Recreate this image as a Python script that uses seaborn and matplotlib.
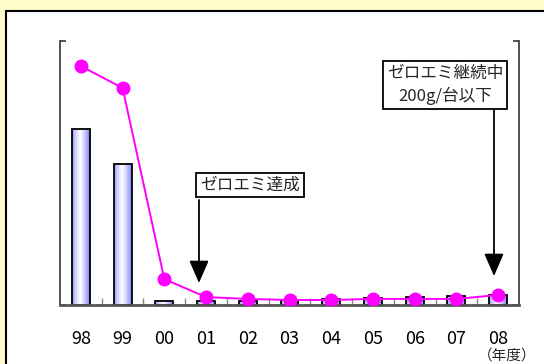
import numpy as np
import matplotlib
matplotlib.use("Agg")
import matplotlib.pyplot as plt
from matplotlib.patches import Rectangle
from matplotlib.ticker import FixedLocator
import seaborn as sns

# Fiscal years and the two series (bars and line share one relative scale)
years = ["98", "99", "00", "01", "02", "03", "04", "05", "06", "07", "08"]
bar_vals = [66.7, 53.4, 1.5, 1.5, 1.5, 1.9, 2.3, 2.7, 3.0, 3.4, 3.8]
line_vals = [90.5, 82.2, 9.8, 3.0, 2.3, 1.9, 1.9, 2.3, 2.3, 2.3, 3.8]

label_achieved = "ゼロエミ達成"
label_continuing = "ゼロエミ継続中\n200g/台以下"
unit_label = "（年度）"

sns.set_theme(style="white")
plt.rcParams["font.family"] = ["Noto Sans CJK JP", "DejaVu Sans"]

W, H = 544, 364
fig = plt.figure(figsize=(W / 100, H / 100), dpi=100)
fig.patch.set_facecolor("#FFFCCC")

# White panel with a black frame on the left and top
panel = Rectangle((5.5 / W, -0.1), 1.2, (H - 10.5) / H + 0.1,
                  transform=fig.transFigure, facecolor="white",
                  edgecolor="black", linewidth=1.5, zorder=-1)
fig.patches.append(panel)

ax = fig.add_axes([60 / W, 1 - 305 / H, 459 / W, 264 / H])
ax.set_facecolor("none")

sns.barplot(x=years, y=bar_vals, order=years, ax=ax, width=0.43,
            color="#B8B8FF", edgecolor="black", linewidth=1.3, zorder=2)

# Horizontal blue-white-blue shading inside each bar
t = np.linspace(0, 1, 64)
grad = np.clip(np.abs(t - 0.45) / 0.55, 0, 1) ** 1.2
c_edge = np.array([0.5, 0.5, 1.0])
c_mid = np.array([1.0, 1.0, 1.0])
img = (c_mid[None, :] * (1 - grad[:, None]) + c_edge[None, :] * grad[:, None])[None, :, :]
for bar in list(ax.patches):
    x0, y0 = bar.get_x(), bar.get_y()
    w, h = bar.get_width(), bar.get_height()
    im = ax.imshow(img, extent=[x0, x0 + w, y0, y0 + h], aspect="auto",
                   zorder=1.5, interpolation="bilinear")
    im.set_clip_path(bar)
    bar.set_facecolor("none")

sns.pointplot(x=years, y=line_vals, order=years, ax=ax, color="#FF00FF",
              markers="o", markersize=9, linewidth=1.4, zorder=4)
for coll in ax.collections:
    coll.set_zorder(5)

ax.set_xlim(-0.5, len(years) - 0.5)
ax.set_ylim(0, 100)
ax.set_xlabel("")
ax.set_ylabel("")

# Axes frame: left/right lines with end ticks, gray base line
for side in ("left", "right"):
    ax.spines[side].set_visible(True)
    ax.spines[side].set_color("#333333")
    ax.spines[side].set_linewidth(1.2)
ax.spines["top"].set_visible(False)
ax.spines["bottom"].set_visible(True)
ax.spines["bottom"].set_color("#555555")
ax.spines["bottom"].set_linewidth(2)

ax.set_yticks([0, 100])
ax.tick_params(axis="y", which="major", left=True, right=True, direction="in",
               length=4, width=1.2, color="#333333",
               labelleft=False, labelright=False)
ax.xaxis.set_minor_locator(FixedLocator(np.arange(0.5, len(years) - 1, 1.0)))
ax.tick_params(axis="x", which="minor", bottom=True, direction="in",
               length=5, width=1, color="#888888")
ax.tick_params(axis="x", which="major", length=0, pad=18, labelsize=13,
               labelcolor="black")

# Callouts
box = dict(boxstyle="square,pad=0.22", facecolor="white", edgecolor="black",
           linewidth=1.3)
arrow = dict(arrowstyle="-|>,head_length=1.15,head_width=0.5",
             color="black", linewidth=1.3, shrinkA=0, shrinkB=0)

ax.annotate("", xy=(0.3028, 0.0833), xytext=(0.3028, 0.3977),
            xycoords="axes fraction", textcoords="axes fraction",
            arrowprops=arrow, zorder=6)
ax.text(0.414, 0.4545, label_achieved, transform=ax.transAxes,
        ha="center", va="center", fontsize=12, bbox=box, zorder=7)

ax.annotate("", xy=(0.9455, 0.1098), xytext=(0.9455, 0.75),
            xycoords="axes fraction", textcoords="axes fraction",
            arrowprops=arrow, zorder=6)
ax.text(0.8388, 0.8333, label_continuing, transform=ax.transAxes,
        ha="center", va="center", fontsize=12, linespacing=1.35,
        bbox=box, zorder=7)

fig.text(507 / W, 1 - 356 / H, unit_label, ha="center", va="center",
         fontsize=10.5)

fig.savefig("out.png", dpi=100, facecolor=fig.get_facecolor())
